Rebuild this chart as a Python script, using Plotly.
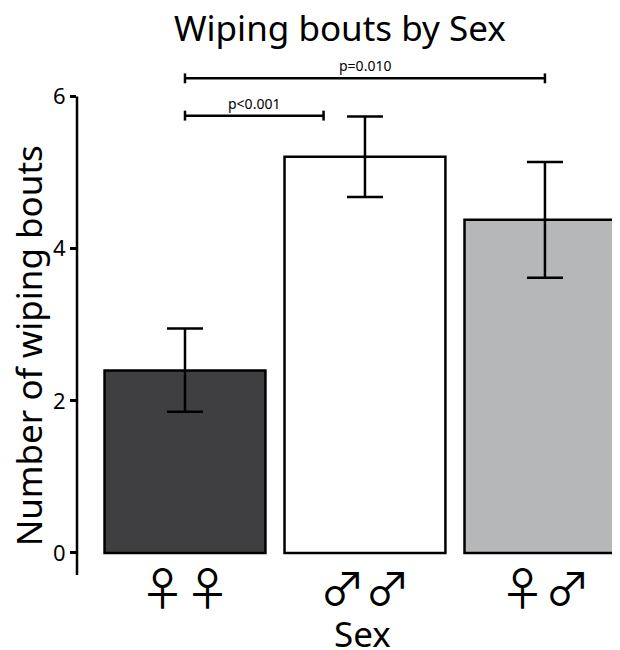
import plotly.graph_objects as go

categories = ["♀♀", "♂♂", "♀♂"]
means = [2.40, 5.21, 4.38]
err_low = [1.855, 4.68, 3.62]
err_high = [2.95, 5.74, 5.14]
bar_colors = ["#3f3f41", "#ffffff", "#b6b7b9"]

# significance brackets: (start category index, end position, y level, label)
brackets = [
    (0, 0.77, 5.75, "p<0.001"),
    (0, 2.0, 6.24, "p=0.010"),
]

x_idx = list(range(len(categories)))
plus = [h - m for h, m in zip(err_high, means)]
minus = [m - l for m, l in zip(means, err_low)]

FONT = "Noto Sans"

fig = go.Figure()
fig.add_trace(go.Bar(
    x=x_idx, y=means, width=0.894,
    marker=dict(color=bar_colors, line=dict(color="black", width=2.5)),
    error_y=dict(type="data", symmetric=False, array=plus, arrayminus=minus,
                 color="black", thickness=2.5, width=18),
    showlegend=False,
))

shapes = []
# custom y axis line from bottom of range to 6
shapes.append(dict(type="line", xref="x domain", yref="y", x0=0, x1=0, y0=-0.29, y1=6,
                   line=dict(color="black", width=2.5)))
annotations = []
tick_h = 0.065
for x0, x1, yv, lab in brackets:
    shapes.append(dict(type="line", xref="x", yref="y", x0=x0, x1=x1, y0=yv, y1=yv,
                       line=dict(color="black", width=2.5)))
    for xx in (x0, x1):
        shapes.append(dict(type="line", xref="x", yref="y", x0=xx, x1=xx,
                           y0=yv - tick_h, y1=yv + tick_h,
                           line=dict(color="black", width=2.5)))
    annotations.append(dict(x=(x0 + x1) / 2, y=yv, xref="x", yref="y", text=lab,
                            showarrow=False, yanchor="bottom", yshift=1,
                            font=dict(size=14, color="black", family=FONT)))

annotations.append(dict(text="Number of wiping bouts", textangle=-90, xref="paper", yref="paper",
                        x=-0.09, y=0.453, xanchor="center", yanchor="middle", showarrow=False,
                        font=dict(size=35, color="black", family=FONT)))
annotations.append(dict(text="Wiping bouts by Sex", xref="paper", yref="paper",
                        x=0.484, y=1.0, yshift=43, xanchor="center", yanchor="middle", showarrow=False,
                        font=dict(size=35, color="black", family=FONT)))
annotations.append(dict(text="Sex", xref="paper", yref="paper",
                        x=0.525, y=0, yshift=-58, xanchor="center", yanchor="middle", showarrow=False,
                        font=dict(size=35, color="black", family=FONT)))

fig.update_layout(
    width=620, height=650,
    margin=dict(l=69, r=8, t=62, b=83),
    plot_bgcolor="white", paper_bgcolor="white",
    font=dict(family=FONT, color="black"),
    shapes=shapes, annotations=annotations,
    xaxis=dict(range=[-0.6, 2.417], tickmode="array", tickvals=x_idx, ticktext=categories,
               showline=False, showgrid=False, zeroline=False, ticks="",
               ticklabelstandoff=-15,
               tickfont=dict(size=45, family="Noto Sans CJK JP", color="black")),
    yaxis=dict(range=[-0.29, 6.35], tickvals=[0, 2, 4, 6], showline=False, showgrid=False,
               zeroline=False, ticks="outside", ticklen=6, tickwidth=2.5, tickcolor="black",
               tickfont=dict(size=22, color="black", family=FONT)),
)

fig.write_html("out.html")
